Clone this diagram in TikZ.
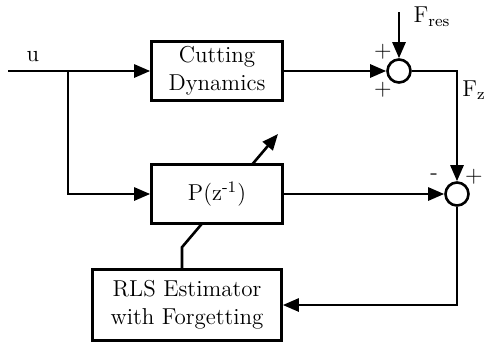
\documentclass[tikz,border=0pt]{standalone}
\usepackage{amsmath}
\usetikzlibrary{arrows.meta,backgrounds}

\begin{document}
\begin{tikzpicture}[x=0.5pt,y=-0.5pt,line width=1.3pt,
    >={Triangle[length=8pt,width=6.5pt]},
    blk/.style={draw,fill=white,minimum width=65.5pt,minimum height=29.5pt,align=center,
      inner sep=2pt,font=\fontsize{11.5}{14}\selectfont},
    sum/.style={circle,draw,fill=white,minimum size=11.5pt,inner sep=0pt},
    lbl/.style={font=\fontsize{11.5}{14}\selectfont,inner sep=0pt}]
      \useasboundingbox (0,0) rectangle (485,343);

      \node[blk] (cut)   at (217,71)  {Cutting\\Dynamics};
      \node[blk] (plant) at (217,194) {P(z\textsuperscript{-1})};
      \node[blk,minimum width=94.5pt,minimum height=35.5pt] (rls) at (187,305)
        {RLS Estimator\\with Forgetting};
      \node[sum] (s1) at (399,71)  {};
      \node[sum] (s2) at (457,194) {};

      \coordinate (in)   at (8,71);
      \coordinate (br)   at (68,71);
      \coordinate (fres) at (399,12);
      \coordinate (tip)  at (278,134);

      % signals
      \draw (in) -- (br);
      \draw[->] (br) -- (cut);
      \draw[->] (br) |- (plant);
      \draw[->] (cut) -- (s1);
      \draw[->] (fres) -- (s1);
      \draw[->] (s1) -| (s2);
      \draw[->] (plant) -- (s2);
      \draw[->] (s2) |- (rls);

      % adaptation (behind the plant block)
      \begin{scope}[on background layer]
        \draw[->,line width=1.3pt] ([xshift=-2.5pt]rls.north) -- ++(0,-21) -- (tip);
      \end{scope}

      \node[lbl] (u)  at (33,57)  {u};
      \node[lbl] (fr) at (432,17) {F\textsubscript{res}};
      \node[lbl] (fz) at (474,90) {F\textsubscript{z}};
      \node[lbl] (p1) at (383,52)  {+};
      \node[lbl] (p2) at (383,90)  {+};
      \node[lbl] (m3) at (434,177) {-};
      \node[lbl] (p4) at (474,177) {+};
\end{tikzpicture}
\end{document}
